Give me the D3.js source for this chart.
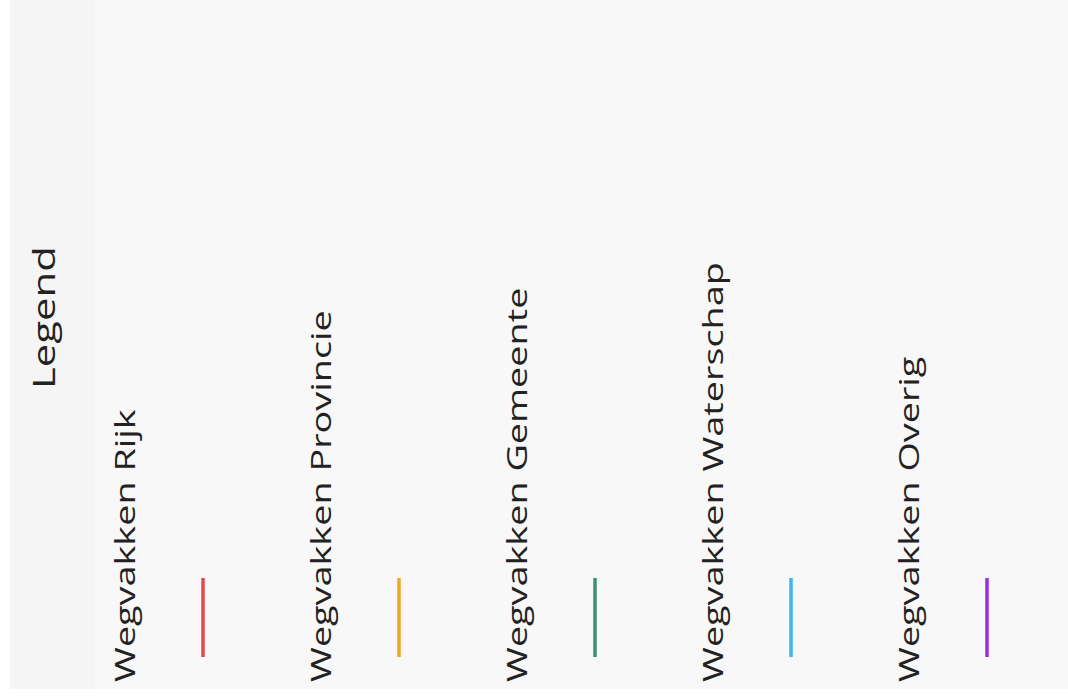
<!DOCTYPE html>
<html><head><meta charset="utf-8">
<script src="https://cdn.jsdelivr.net/npm/d3@7"></script>
<style>body{margin:0;background:#fff;}svg{display:block;}</style>
</head><body>
<script>
const categories = ["Wegvakken Rijk","Wegvakken Provincie","Wegvakken Gemeente","Wegvakken Waterschap","Wegvakken Overig"];
const colors = ["#e5484f","#f1a91c","#3a8f78","#3ab8ee","#9a2fe0"];
const title = "Legend";

const W = 1068, H = 698;
const stretch = 1.35;
const svg = d3.select("body").append("svg").attr("width", W).attr("height", H);
svg.append("rect").attr("x",10).attr("y",0).attr("width",W-10).attr("height",689).attr("fill","#f8f8f8");
svg.append("rect").attr("x",10).attr("y",0).attr("width",85).attr("height",689).attr("fill","#f5f5f5");

const font = "'Open Sans', sans-serif";
svg.append("text").attr("transform",`translate(55,389) scale(1,${stretch}) rotate(-90)`)
  .attr("font-family",font).attr("font-size",31).attr("fill","#222").text(title);

const x = d3.scalePoint().domain(categories).range([203, 987]);
const g = svg.selectAll("g.item").data(categories).enter().append("g").attr("class","item");
g.append("text").attr("transform", d => `translate(${x(d)-68},682) scale(1,${stretch}) rotate(-90)`)
  .attr("font-family",font).attr("font-size",28).attr("fill","#222").text(d=>d);
g.append("line").attr("x1",d=>x(d)).attr("x2",d=>x(d)).attr("y1",578).attr("y2",657)
  .attr("stroke",(d,i)=>colors[i]).attr("stroke-width",3.5);
</script>
</body></html>
